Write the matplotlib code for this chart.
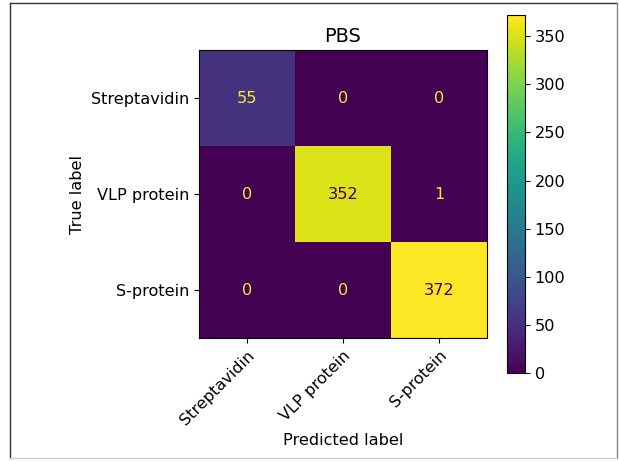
import matplotlib
matplotlib.use("Agg")
import matplotlib.pyplot as plt
from matplotlib.lines import Line2D
import numpy as np

labels = ["Streptavidin", "VLP protein", "S-protein"]
cm = np.array([[55, 0, 0],
               [0, 352, 1],
               [0, 0, 372]])

plt.rcParams["font.size"] = 11.6

W, H = 619, 461
fig = plt.figure(figsize=(W / 100, H / 100), dpi=100)

ax = fig.add_axes([198 / W, 1 - 338 / H, 290 / W, 288 / H])
cax = fig.add_axes([507 / W, 1 - 373 / H, 18 / W, 358 / H])

cmap = plt.get_cmap("viridis")
im = ax.imshow(cm, interpolation="nearest", cmap=cmap)
fig.colorbar(im, cax=cax)

thresh = (cm.max() + cm.min()) / 2.0
for i in range(cm.shape[0]):
    for j in range(cm.shape[1]):
        color = cmap(0) if cm[i, j] > thresh else cmap(1.0)
        ax.text(j, i, str(cm[i, j]), ha="center", va="center", color=color)

ax.set_xticks(range(len(labels)))
ax.set_yticks(range(len(labels)))
ax.set_xticklabels(labels, rotation=45, ha="right", rotation_mode="anchor")
ax.set_yticklabels(labels)
ax.set_xlabel("Predicted label")
ax.set_ylabel("True label")
ax.set_title("PBS")

# screenshot frame
def px(x, y):
    return x / W, 1 - y / H

for (x0, y0), (x1, y1), c in [((10, 3), (617, 3), "#333333"),
                              ((10, 3), (10, 458), "#333333"),
                              ((617, 3), (617, 458), "#888888"),
                              ((10, 458), (617, 458), "#cccccc")]:
    a, b = px(x0, y0)
    c2, d = px(x1, y1)
    fig.add_artist(Line2D([a, c2], [b, d], color=c, lw=1, transform=fig.transFigure))

fig.savefig("out.png", dpi=100)
